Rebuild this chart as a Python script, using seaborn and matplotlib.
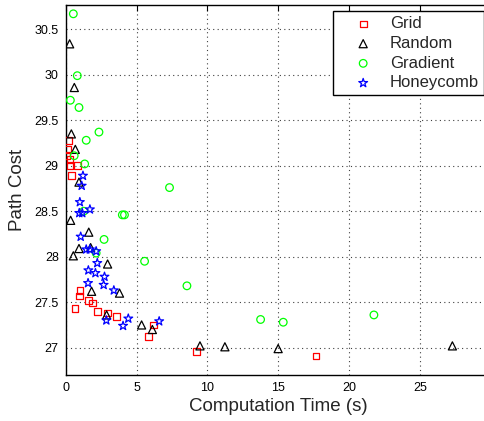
"""
Path cost vs computation time for four sampling strategies.
Saves the scatter chart to out.png.
"""

import matplotlib
matplotlib.use("Agg")
import matplotlib.pyplot as plt
import seaborn as sns

# ── Data ───────────────────────────────────────────────────────────────────────
grid_time = [0.18, 0.11, 0.09, 0.30, 0.30, 0.85, 0.42, 1.01, 0.96, 1.60,
             1.90, 0.66, 2.23, 2.96, 3.60, 6.20, 5.83, 9.24, 17.66]
grid_cost = [29.28, 29.18, 29.11, 29.07, 29.00, 29.00, 28.89, 27.63, 27.57, 27.52,
             27.49, 27.43, 27.40, 27.38, 27.34, 27.25, 27.12, 26.96, 26.91]

random_time = [0.28, 0.61, 0.40, 0.68, 0.94, 0.35, 1.63, 0.94, 1.76, 0.54,
               2.96, 1.83, 3.80, 2.89, 5.36, 6.12, 9.48, 11.24, 15.00, 27.30]
random_cost = [30.34, 29.86, 29.35, 29.18, 28.82, 28.40, 28.27, 28.09, 28.10, 28.01,
               27.92, 27.62, 27.60, 27.36, 27.25, 27.20, 27.02, 27.01, 26.99, 27.02]

gradient_time = [0.54, 0.82, 0.33, 0.94, 2.35, 1.45, 0.60, 1.34, 7.33, 1.27,
                 4.00, 4.15, 2.71, 2.15, 5.57, 8.56, 13.76, 15.36, 21.76]
gradient_cost = [30.67, 29.99, 29.72, 29.64, 29.37, 29.28, 29.11, 29.02, 28.76, 28.50,
                 28.46, 28.46, 28.19, 28.04, 27.95, 27.68, 27.31, 27.28, 27.36]

honey_time = [1.22, 1.13, 1.00, 1.71, 0.96, 1.17, 1.06, 1.45, 1.71, 2.15, 2.23,
              1.60, 2.10, 2.74, 1.58, 2.68, 3.40, 2.87, 4.42, 4.05, 6.60]
honey_cost = [28.89, 28.78, 28.60, 28.52, 28.48, 28.48, 28.22, 28.08, 28.08, 28.06, 27.93,
              27.85, 27.82, 27.78, 27.71, 27.69, 27.63, 27.30, 27.32, 27.24, 27.29]

x_ticks = [0, 5, 10, 15, 20, 25]
y_ticks = [27, 27.5, 28, 28.5, 29, 29.5, 30, 30.5]

# ── Style ──────────────────────────────────────────────────────────────────────
sns.set_style("white")
plt.rcParams["font.family"] = ["Liberation Sans", "DejaVu Sans"]

series = [
    ("Grid",      grid_time,     grid_cost,     "s", "#ff0000", 23),
    ("Random",    random_time,   random_cost,   "^", "#000000", 34),
    ("Gradient",  gradient_time, gradient_cost, "o", "#00ff00", 30),
    ("Honeycomb", honey_time,    honey_cost,    "*", "#0000ff", 44),
]

fig = plt.figure(figsize=(4.84, 4.21), dpi=100)
# axes run a little past the right edge of the canvas (as in the reference crop)
ax = fig.add_axes([0.1357, 0.1093, 0.878, 0.8795])

for name, xs, ys, marker, color, size in series:
    sns.scatterplot(x=xs, y=ys, marker=marker, s=size, facecolors="none",
                    edgecolor=color, linewidth=0.9, label=name, ax=ax, zorder=3)

ax.set_xlim(0, 30)
ax.set_ylim(26.7, 30.77)
ax.set_xticks(x_ticks)
ax.set_yticks(y_ticks)
ax.yaxis.set_major_formatter(plt.FuncFormatter(lambda v, _: f"{v:g}"))

# MATLAB-like box with inward ticks and dotted grid
ax.grid(True, linestyle=(0, (1, 3)), color="0.25", linewidth=0.8)
for sp in ax.spines.values():
    sp.set_visible(True)
    sp.set_color("black")
    sp.set_linewidth(1.0)
ax.tick_params(direction="in", length=4, width=0.8, top=True, right=True,
               labelsize=9, colors="black", pad=5)

ax.set_xlabel("Computation Time (s)", fontsize=13.5, labelpad=3)
ax.set_ylabel("Path Cost", fontsize=13.5, labelpad=6)

leg = ax.legend(loc="upper right", fontsize=12, frameon=True, fancybox=False,
                edgecolor="black", framealpha=1, borderaxespad=0.4,
                handlelength=3.0, handletextpad=0.1, labelspacing=0.28,
                borderpad=0.3)
leg.get_frame().set_linewidth(1.0)

fig.savefig("out.png", dpi=100)
plt.close(fig)
